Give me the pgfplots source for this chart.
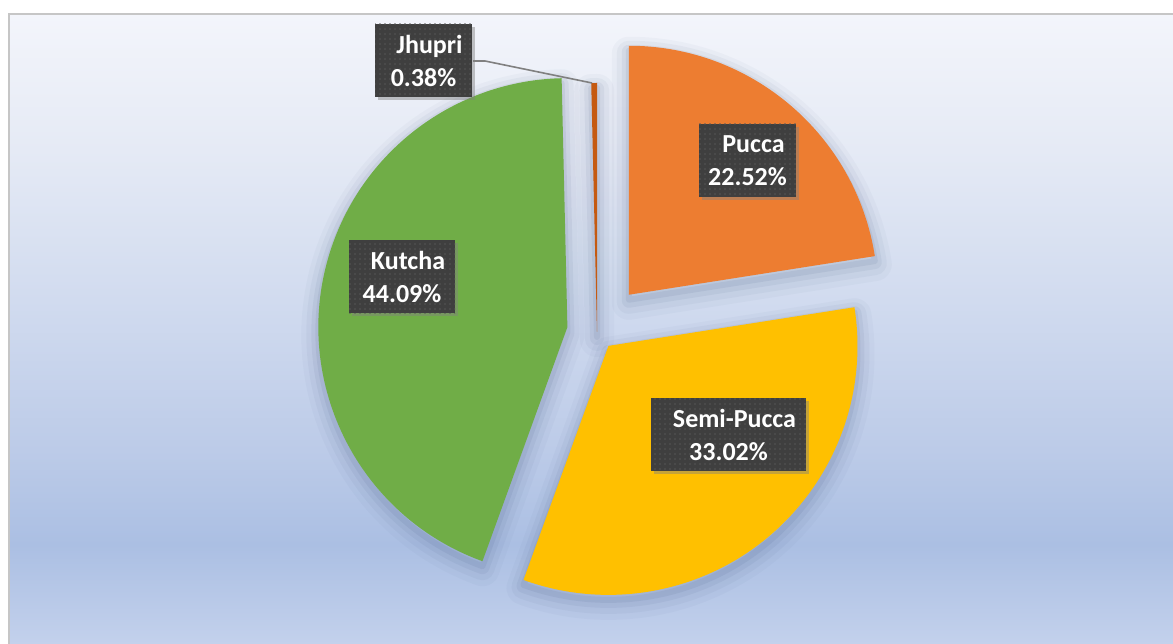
\documentclass[border=0pt]{standalone}
\usepackage{pgfplots}
\pgfplotsset{compat=1.18}
\usepackage{pgfplotstable}
\usepackage{fontspec}
\setmainfont{Carlito}
\usetikzlibrary{patterns.meta,shadows}

\definecolor{cPucca}{HTML}{ED7D31}
\definecolor{cSemi}{HTML}{FFC000}
\definecolor{cKutcha}{HTML}{70AD47}
\definecolor{cJhupri}{HTML}{C55A11}
\definecolor{lblbg}{HTML}{3F3F3F}
\definecolor{lbldot}{HTML}{575757}
\definecolor{leader}{HTML}{808080}
\definecolor{frame}{HTML}{C6C6C6}
\definecolor{haloc}{HTML}{41557D}
\definecolor{bgA}{HTML}{F3F5FB}
\definecolor{bgAB}{HTML}{E5EAF5}
\definecolor{bgB}{HTML}{D1DBEF}
\definecolor{bgC}{HTML}{BCCBE8}
\definecolor{bgD}{HTML}{ABBFE3}
\definecolor{bgE}{HTML}{C3D1EC}

\pgfdeclareverticalshading{bgshade}{100bp}{%
  color(0bp)=(bgE); color(25bp)=(bgE); color(32.9bp)=(bgD);
  color(40.4bp)=(bgC); color(52.3bp)=(bgB); color(64.2bp)=(bgAB);
  color(75bp)=(bgA); color(100bp)=(bgA)}

\pgfplotstableread{
name value explode
Pucca 22.52 49
Semi-Pucca 33.02 18
Kutcha 44.09 30
Jhupri 0.38 0
}\piedata

\newcommand\SV[2]{\csname #1#2\endcsname}
\newcommand\slicepath[1]{(axis cs:\SV{vx}{#1},\SV{vy}{#1}) -- ++(\SV{st}{#1}:249bp) arc[start angle=\SV{st}{#1}, end angle=\SV{en}{#1}, radius=249bp] -- cycle}

\tikzset{lbl/.style={text=white, align=center,
  font=\bfseries\fontsize{26bp}{33bp}\selectfont,
  preaction={fill=lblbg, drop shadow={shadow xshift=3bp, shadow yshift=-3bp, opacity=0.45}},
  pattern={Dots[distance=5bp, radius=0.8bp]}, pattern color=lbldot,
  inner sep=0pt, minimum height=73bp}}

\begin{document}
\begin{tikzpicture}
\def\cx{597}\def\cy{312}
\gdef\angacc{90}
\foreach \i in {0,...,3}{%
  \pgfplotstablegetelem{\i}{value}\of\piedata
  \expandafter\xdef\csname val\i\endcsname{\pgfplotsretval}%
  \pgfplotstablegetelem{\i}{name}\of\piedata
  \expandafter\xdef\csname nm\i\endcsname{\pgfplotsretval}%
  \pgfplotstablegetelem{\i}{explode}\of\piedata
  \let\ex\pgfplotsretval
  \pgfmathsetmacro\st{\angacc}%
  \pgfmathsetmacro\en{\angacc-3.6*\csname val\i\endcsname}%
  \pgfmathsetmacro\md{(\st+\en)/2}%
  \pgfmathsetmacro\vx{\cx+\ex*cos(\md)}%
  \pgfmathsetmacro\vy{\cy+\ex*sin(\md)}%
  \expandafter\xdef\csname st\i\endcsname{\st}%
  \expandafter\xdef\csname en\i\endcsname{\en}%
  \expandafter\xdef\csname vx\i\endcsname{\vx}%
  \expandafter\xdef\csname vy\i\endcsname{\vy}%
  \xdef\angacc{\en}%
}
\begin{axis}[x=1bp, y=1bp, xmin=0, xmax=1173, ymin=0, ymax=644,
  hide axis, clip=false]
\coordinate (LL) at (axis cs:0,0);
\coordinate (UR) at (axis cs:1173,644);
\fill[white] (axis cs:0,0) rectangle (axis cs:1173,644);
\shade[shading=bgshade] (axis cs:9,0) rectangle (axis cs:1173,630);
\draw[frame, line width=1.5bp] (axis cs:9,0) -- (axis cs:9,630) -- (axis cs:1173,630);
% soft shadows
\pgfplotsinvokeforeach{0,1,2,3}{
  \draw[haloc, line width=34bp, draw opacity=0.035, line join=round, yshift=-8bp] \slicepath{#1};
  \draw[haloc, line width=24bp, draw opacity=0.05, line join=round, yshift=-7bp] \slicepath{#1};
  \draw[haloc, line width=14bp, draw opacity=0.07, line join=round, yshift=-6bp] \slicepath{#1};
  \draw[haloc, line width=6bp, draw opacity=0.09, line join=round, yshift=-5bp] \slicepath{#1};
}
% slices
\fill[cPucca] \slicepath{0};
\fill[cSemi] \slicepath{1};
\fill[cKutcha] \slicepath{2};
\fill[cJhupri] \slicepath{3};
% leader line for Jhupri
\addplot[leader, line width=1.6bp, no markers] coordinates {(473,583) (485,583) (592,561)};
% labels
\node[lbl, minimum width=97bp] at (axis cs:423.5,583.5) {\hspace*{12bp}\SV{nm}{3}\\\SV{val}{3}\%};
\node[lbl, minimum width=97bp] at (axis cs:747.5,483.5) {\hspace*{12bp}\SV{nm}{0}\\\SV{val}{0}\%};
\node[lbl, minimum width=106bp] at (axis cs:402,367) {\hspace*{12bp}\SV{nm}{2}\\\SV{val}{2}\%};
\node[lbl, minimum width=155bp] at (axis cs:728.5,209) {\hspace*{12bp}\SV{nm}{1}\\\SV{val}{1}\%};
\end{axis}
\pgfresetboundingbox
\useasboundingbox (LL) rectangle (UR);
\end{tikzpicture}
\end{document}
